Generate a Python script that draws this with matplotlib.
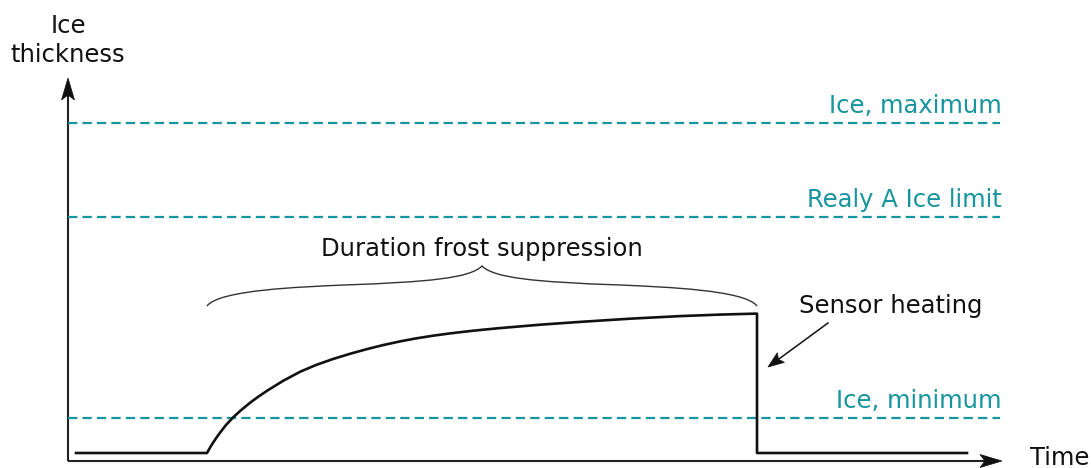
import matplotlib
matplotlib.use("Agg")
import numpy as np
import matplotlib.pyplot as plt
from matplotlib.path import Path
from matplotlib.patches import PathPatch, Polygon

# ---- data (time / thickness in arbitrary units) ----
time = [8, 139, 141, 143, 145, 148, 152, 158, 165, 173, 182, 190, 199, 215,
        232, 248, 265, 282, 299, 315, 332, 348, 365, 382, 399, 415, 432, 472,
        512, 562, 612, 652, 689, 689, 899]
thickness = [8, 8, 11.6, 15, 18.2, 22.7, 28.3, 36, 43.5, 50.8, 58.2, 64.1, 70.2,
             80.1, 89.2, 96, 102, 107.2, 111.9, 115.9, 119.6, 122.6, 125.3,
             127.6, 129.6, 131.3, 132.9, 136.3, 139.1, 142.3, 144.9, 146.4,
             147.4, 8, 8]

level_names = ["Ice, maximum", "Realy A Ice limit", "Ice, minimum"]
level_values = [338, 244, 43]

frost_start, frost_end = 139, 689
heating_time = 689

TEAL = "#17959e"
INK = "#111111"

fig = plt.figure(figsize=(10.91, 4.68), dpi=100)
ax = fig.add_axes([0, 0, 1, 1])
ax.set_xlim(-68, 1023)
ax.set_ylim(-7, 461)
ax.axis("off")

x_end = 934
y_end = 383


def stealth(tip, tail, length, half_w, notch, color):
    """Draw a notched arrow head (in pixels) at data point tip, pointing away from tail."""
    t = ax.transData.transform(tip)
    s = ax.transData.transform(tail)
    d = (t - s) / np.hypot(*(t - s))
    n = np.array([-d[1], d[0]])
    pts = [t,
           t - d * length + n * half_w,
           t - d * (length - notch),
           t - d * length - n * half_w]
    pts = ax.transData.inverted().transform(np.array(pts))
    ax.add_patch(Polygon(pts, closed=True, facecolor=color, edgecolor=color,
                         lw=0.5, zorder=5))
    return t - d * (length - notch)


# axes arrows
for tip in [(x_end, 0), (0, y_end)]:
    base = stealth(tip, (0, 0), 22, 6.5, 5, "#111111")
    bx, by = ax.transData.inverted().transform(base)
    ax.plot([0, bx], [0, by], color="#222222", lw=1.5, solid_capstyle="butt")

ax.text(x_end + 28, -4, "Time", fontsize=17.5, ha="left", va="baseline", color=INK)
ax.text(0, 461 - 62, "Ice\nthickness", fontsize=17.5, ha="center", va="baseline",
        color=INK, linespacing=1.25, multialignment="center")

# threshold levels
for name, val in zip(level_names, level_values):
    ax.plot([0, x_end - 2], [val, val], color=TEAL, lw=1.6,
            linestyle=(0, (4.2, 2.3)))
    ax.text(x_end, val + 10, name, fontsize=17.5, color=TEAL,
            ha="right", va="baseline")

# thickness curve
ax.plot(time, thickness, color=INK, lw=1.9, solid_joinstyle="round")

# brace over frost suppression duration
mid = (frost_start + frost_end) / 2
y0 = 155
verts_left = [
    (frost_start, y0),
    (frost_start + 12, 171), (frost_start + 92, 174), (frost_start + 137, 176),
    (mid - 52, 179), (mid - 12, 183), (mid, 195),
]
verts_right = [
    (mid + 12, 183), (mid + 52, 179), (frost_end - 137, 176),
    (frost_end - 92, 174), (frost_end - 12, 171), (frost_end, y0),
]
codes = [Path.MOVETO] + [Path.CURVE4] * 12
brace = PathPatch(Path(verts_left + verts_right, codes), facecolor="none",
                  edgecolor="#333333", lw=1.0)
ax.add_patch(brace)
ax.text(mid, 205, "Duration frost suppression", fontsize=17.5, ha="center",
        va="baseline", color=INK)

# sensor heating annotation
ax.text(731, 148, "Sensor heating", fontsize=17.5, color=INK, ha="left",
        va="baseline")
tip = (heating_time + 11, 94)
tail = (760, 138)
base = stealth(tip, tail, 16, 6, 3, INK)
bx, by = ax.transData.inverted().transform(base)
ax.plot([tail[0], bx], [tail[1], by], color=INK, lw=1.1)

fig.savefig("out.png", dpi=100)
